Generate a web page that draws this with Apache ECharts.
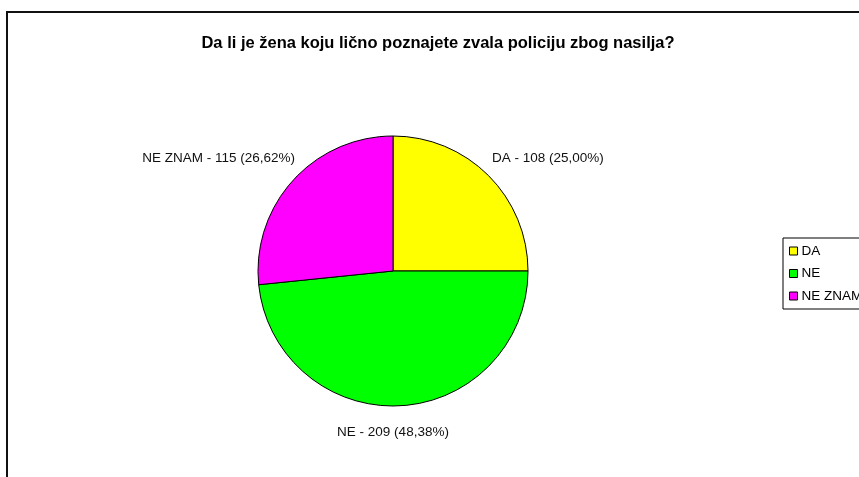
<!DOCTYPE html>
<html>
<head>
<meta charset="utf-8">
<script src="https://cdn.jsdelivr.net/npm/echarts@6/dist/echarts.min.js"></script>
<style>
  html, body { margin: 0; padding: 0; background: #fff; }
  #chart { width: 859px; height: 477px; }
</style>
</head>
<body>
<div id="chart"></div>
<script>
// Data
const categories = ['DA', 'NE', 'NE ZNAM'];
const counts = [108, 209, 115];
const percents = ['25,00', '48,38', '26,62'];
const colors = ['#FFFF00', '#00FF00', '#FF00FF'];

// Label anchors (text placement only)
const labelSpots = [
  { x: 492, y: 158, align: 'left' },
  { x: 393, y: 432, align: 'center' },
  { x: 295, y: 158, align: 'right' }
];

const FONT = 'Liberation Sans, Arial, sans-serif';

const chart = echarts.init(document.getElementById('chart'));

chart.setOption({
  animation: false,
  backgroundColor: '#fff',
  title: {
    text: 'Da li je žena koju lično poznajete zvala policiju zbog nasilja?',
    left: 433,
    top: 30,
    textAlign: 'center',
    textStyle: {
      fontFamily: FONT,
      fontSize: 16.5,
      fontWeight: 'bold',
      color: '#000'
    }
  },
  legend: {
    orient: 'vertical',
    left: 783,
    top: 238,
    data: categories,
    icon: 'rect',
    itemWidth: 8,
    itemHeight: 8,
    itemGap: 8.5,
    padding: [6, 6, 6, 6],
    borderColor: '#000',
    borderWidth: 1,
    borderRadius: 0,
    textStyle: {
      fontFamily: FONT,
      fontSize: 13.5,
      color: '#000',
      padding: [0, 0, 0, -1],
      height: 14,
      lineHeight: 14
    },
    itemStyle: { borderColor: '#000', borderWidth: 1 }
  },
  graphic: [{
    type: 'rect',
    shape: { x: 7, y: 12, width: 900, height: 500 },
    style: { fill: 'none', stroke: '#111', lineWidth: 2 },
    silent: true,
    z: -1
  }],
  series: [{
    type: 'pie',
    center: [393, 271],
    radius: 135,
    startAngle: 90,
    clockwise: true,
    data: categories.map((name, i) => ({
      name,
      value: counts[i],
      itemStyle: { color: colors[i] }
    })),
    itemStyle: { borderColor: '#000', borderWidth: 1 },
    emphasis: { disabled: true },
    label: {
      show: true,
      position: 'outside',
      fontFamily: FONT,
      fontSize: 13.5,
      color: '#111',
      formatter: p => `${p.name} - ${p.value} (${percents[p.dataIndex]}%)`
    },
    labelLine: { show: false },
    labelLayout: p => {
      const s = labelSpots[p.dataIndex];
      return { x: s.x, y: s.y, align: s.align, verticalAlign: 'middle' };
    }
  }]
});
</script>
</body>
</html>
